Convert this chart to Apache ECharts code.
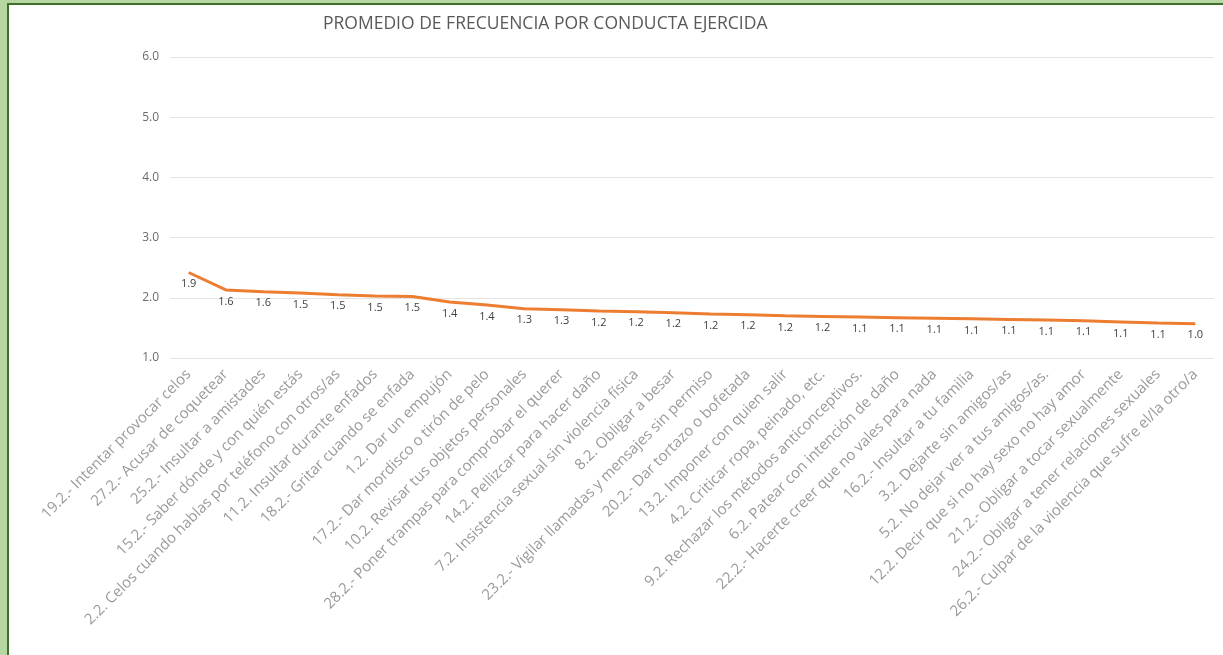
<!DOCTYPE html>
<html>
<head>
<meta charset="utf-8">
<title>Promedio de frecuencia por conducta ejercida</title>
<script src="https://cdn.jsdelivr.net/npm/echarts@6/dist/echarts.min.js"></script>
<style>
  html, body { margin: 0; padding: 0; }
  body { width: 1223px; height: 655px; background: #b6d6a2; position: relative; overflow: hidden; }
  .marco { position: absolute; left: 7px; top: 3px; width: 1220px; height: 660px; border-left: 2px solid #3f6f2c; border-top: 2px solid #3f6f2c; background: #fff; }
  #grafico { width: 1205px; height: 640px; }
</style>
</head>
<body>
<div class="marco"><div id="grafico"></div></div>
<script>
// conductas (eje x)
var conductas = [
  '19.2.- Intentar provocar celos',
  '27.2.- Acusar de coquetear',
  '25.2.- Insultar a amistades',
  '15.2.- Saber dónde y con quién estás',
  '2.2. Celos cuando hablas por teléfono con otros/as',
  '11.2. Insultar durante enfados',
  '18.2.- Gritar cuando se enfada',
  '1.2. Dar un empujón',
  '17.2.- Dar mordisco o tirón de pelo',
  '10.2. Revisar tus objetos personales',
  '28.2.- Poner trampas para comprobar el querer',
  '14.2. Pellizcar para hacer daño',
  '7.2. Insistencia sexual sin violencia física',
  '8.2. Obligar a besar',
  '23.2.- Vigilar llamadas y mensajes sin permiso',
  '20.2.- Dar tortazo o bofetada',
  '13.2. Imponer con quien salir',
  '4.2. Criticar ropa, peinado, etc.',
  '9.2. Rechazar los métodos anticonceptivos.',
  '6.2. Patear con intención de daño',
  '22.2.- Hacerte creer que no vales para nada',
  '16.2.- Insultar a tu familia',
  '3.2. Dejarte sin amigos/as',
  '5.2. No dejar ver a tus amigos/as.',
  '12.2. Decir que si no hay sexo no hay amor',
  '21.2.- Obligar a tocar sexualmente',
  '24.2.- Obligar a tener relaciones sexuales',
  '26.2.- Culpar de la violencia que sufre el/la otro/a'
];

// altura de la linea tal como aparece dibujada
var valores = [2.42, 2.13, 2.10, 2.08, 2.05, 2.03, 2.02, 1.93, 1.88, 1.82,
  1.80, 1.78, 1.77, 1.75, 1.73, 1.72, 1.70, 1.69, 1.68, 1.67,
  1.66, 1.65, 1.64, 1.63, 1.62, 1.60, 1.58, 1.57];

// etiquetas de datos que muestra el grafico
var etiquetas = ['1.9', '1.6', '1.6', '1.5', '1.5', '1.5', '1.5', '1.4', '1.4', '1.3',
  '1.3', '1.2', '1.2', '1.2', '1.2', '1.2', '1.2', '1.2', '1.1', '1.1',
  '1.1', '1.1', '1.1', '1.1', '1.1', '1.1', '1.1', '1.0'];

var chart = echarts.init(document.getElementById('grafico'));
chart.setOption({
  animation: false,
  textStyle: { fontFamily: 'Open Sans' },
  title: {
    text: 'PROMEDIO DE FRECUENCIA POR CONDUCTA EJERCIDA',
    left: 309,
    top: 5,
    textStyle: { color: '#595959', fontSize: 17.5, fontWeight: 'normal', fontFamily: 'Open Sans' }
  },
  grid: { left: 161, right: 0, top: 52, bottom: 287, containLabel: false },
  xAxis: {
    type: 'category',
    data: conductas,
    boundaryGap: true,
    axisLine: { show: false },
    axisTick: { show: false },
    axisLabel: {
      interval: 0,
      rotate: 45,
      margin: 14,
      color: '#9a9a9a',
      fontSize: 15
    }
  },
  yAxis: {
    type: 'value',
    min: 1,
    max: 6,
    interval: 1,
    axisLine: { show: false },
    axisTick: { show: false },
    axisLabel: {
      margin: 11,
      color: '#6b6b6b',
      fontSize: 12,
      formatter: function (v) { return v.toFixed(1); }
    },
    splitLine: { lineStyle: { color: '#e3e3e3', width: 1 } }
  },
  series: [{
    type: 'line',
    data: valores,
    symbol: 'circle',
    symbolSize: 0,
    showSymbol: true,
    lineStyle: { color: '#ed7d31', width: 3 },
    itemStyle: { color: '#ed7d31' },
    label: {
      show: true,
      position: 'bottom',
      distance: 6,
      color: '#404040',
      fontSize: 11,
      formatter: function (p) { return etiquetas[p.dataIndex]; }
    },
    labelLayout: { hideOverlap: false }
  }]
});
</script>
</body>
</html>
